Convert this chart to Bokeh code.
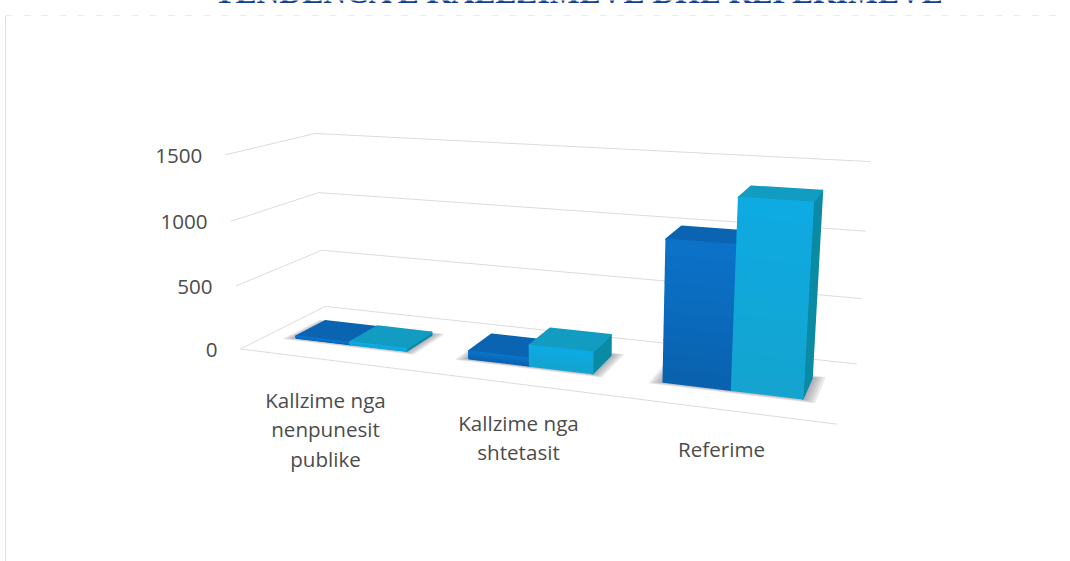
import numpy as np
from bokeh.plotting import figure
from bokeh.models import Range1d
from bokeh.core.properties import value
from bokeh.embed import file_html
from bokeh.resources import INLINE

title = "TENDENCA E KALLZIMEVE DHE REFERIMEVE"
categories = [["Kallzime nga", "nenpunesit", "publike"], ["Kallzime nga", "shtetasit"], ["Referime"]]
series_a = [15, 60, 1030]
series_b = [20, 160, 1350]
ticks = [0, 500, 1000, 1500]

WIDTH, HEIGHT = 1070, 561
# calibration of the 3D view: (category position, depth, value) -> page position
calib = [
    (0,0,0,240,348),(0,1,0,325,306),(3,1,0,857,363),(3,0,0,836,424),
    (0,0,500,235,286),(0,1,500,321,250),(3,1,500,860,298),
    (0,0,1000,230,221),(0,1,1000,318,192),(3,1,1000,865,231),
    (0,0,1500,225,154),(0,1,1500,315,133),(3,1,1500,870,161),
]
rows = []
for u,v,z,x,y in calib:
    X = [u,v,z/1500,1]
    rows.append(X+[0,0,0,0]+[-x*c for c in X])
    rows.append([0,0,0,0]+X+[-y*c for c in X])
P = np.linalg.svd(np.array(rows,float))[2][-1].reshape(3,4)

def proj(u,v,z):
    h = P @ np.array([u,v,z/1500,1.0])
    return h[0]/h[2], h[1]/h[2]
def poly(pts):
    q = [proj(*t) for t in pts]
    return [a for a,_ in q], [b for _,b in q]

p = figure(width=WIDTH, height=HEIGHT, x_range=Range1d(0,WIDTH), y_range=Range1d(HEIGHT,0),
           output_backend="svg", toolbar_location=None, min_border=0,
           outline_line_color=None, styles={"position":"absolute","left":"0","top":"0"})
p.axis.visible = False
p.grid.visible = False

# page frame from the scan
p.line([5,5],[16,561],line_color="#e0e0e0",line_width=1)
p.line([5,1060],[15,15],line_color="#ececec",line_width=1,line_dash="7 11")

# title
p.text([579],[-8],text=[title],text_font=value("Liberation Serif"),text_font_style="bold",
       text_font_size="31.6px",text_color="#14408f",text_align="center",text_baseline="alphabetic")

# gridlines
for t in ticks:
    xs,ys = poly([(0,0,t),(0,1,t),(3,1,t)])
    p.line(xs,ys,line_color="#dcdcdc",line_width=1)
xs,ys = poly([(0,0,0),(3,0,0)])
p.line(xs,ys,line_color="#dcdcdc",line_width=1)

# tick labels
tx,ty = zip(*[proj(0,0,t) for t in ticks])
p.text([a-23 for a in tx],[b+1 for b in ty],text=[str(t) for t in ticks],text_font=value("Open Sans"),
       text_font_size="20.6px",text_color="#4c4c4c",text_align="right",text_baseline="middle")

gap, w, v0, v1 = 0.17, 0.325, 0.31, 0.66
A_TOP, A_SIDE, A_F1, A_F2 = "#0a64b2","#0a5aa0","#0b72c8","#0a62ae"
B_TOP, B_SIDE, B_F1, B_F2 = "#129cc2","#0b8aa4","#0eaae2","#14a4cf"

def mix(c1,c2,t):
    a=[int(c1[i:i+2],16) for i in (1,3,5)]; b=[int(c2[i:i+2],16) for i in (1,3,5)]
    return "#%02x%02x%02x"%tuple(round(x+(y-x)*t) for x,y in zip(a,b))

def face(pts,color):
    xs,ys = poly(pts)
    p.patch(xs,ys,fill_color=color,line_color=color,line_width=2,line_join="round")

def bar(u0,u1,h,top,side,f1,f2):
    face([(u1,v0,0),(u1,v1,0),(u1,v1,h),(u1,v0,h)],side)
    face([(u0,v0,h),(u1,v0,h),(u1,v1,h),(u0,v1,h)],top)
    n = 10
    for k in range(n):
        a,b = h*k/n, h*(k+1)/n
        xs,ys = poly([(u0,v0,a),(u1,v0,a),(u1,v0,b),(u0,v0,b)])
        c = mix(f2,f1,k/(n-1))
        p.patch(xs,ys,fill_color=c,line_color=c,line_width=1.5,line_join="round")

for i in range(len(categories)):
    ua = i+gap
    ub = ua+w
    uc = ub+w
    # soft shadow
    for e in (0.06,0.048,0.036,0.024,0.012):
        xs,ys = poly([(ua-e,v0-e*0.8,0),(uc+e,v0-e*0.8,0),(uc+e,v1+e*0.8,0),(ua-e,v1+e*0.8,0)])
        p.patch(xs,ys,fill_color="#6a6a78",fill_alpha=0.14,line_color=None)
    bar(ua,ub,series_a[i],A_TOP,A_SIDE,A_F1,A_F2)
    bar(ub,uc,series_b[i],B_TOP,B_SIDE,B_F1,B_F2)

# category labels
label_x = [325,518,721]
label_y = [399,422,448]
lx,ly,lt = [],[],[]
for c,x,y in zip(categories,label_x,label_y):
    for j,s in enumerate(c):
        lx.append(x); ly.append(y+j*29.5); lt.append(s)
p.text(lx,ly,text=lt,text_font=value("Open Sans"),text_font_size="20.6px",text_color="#4c4c4c",
       text_align="center",text_baseline="middle")

open("out.html","w").write(file_html(p,INLINE))
